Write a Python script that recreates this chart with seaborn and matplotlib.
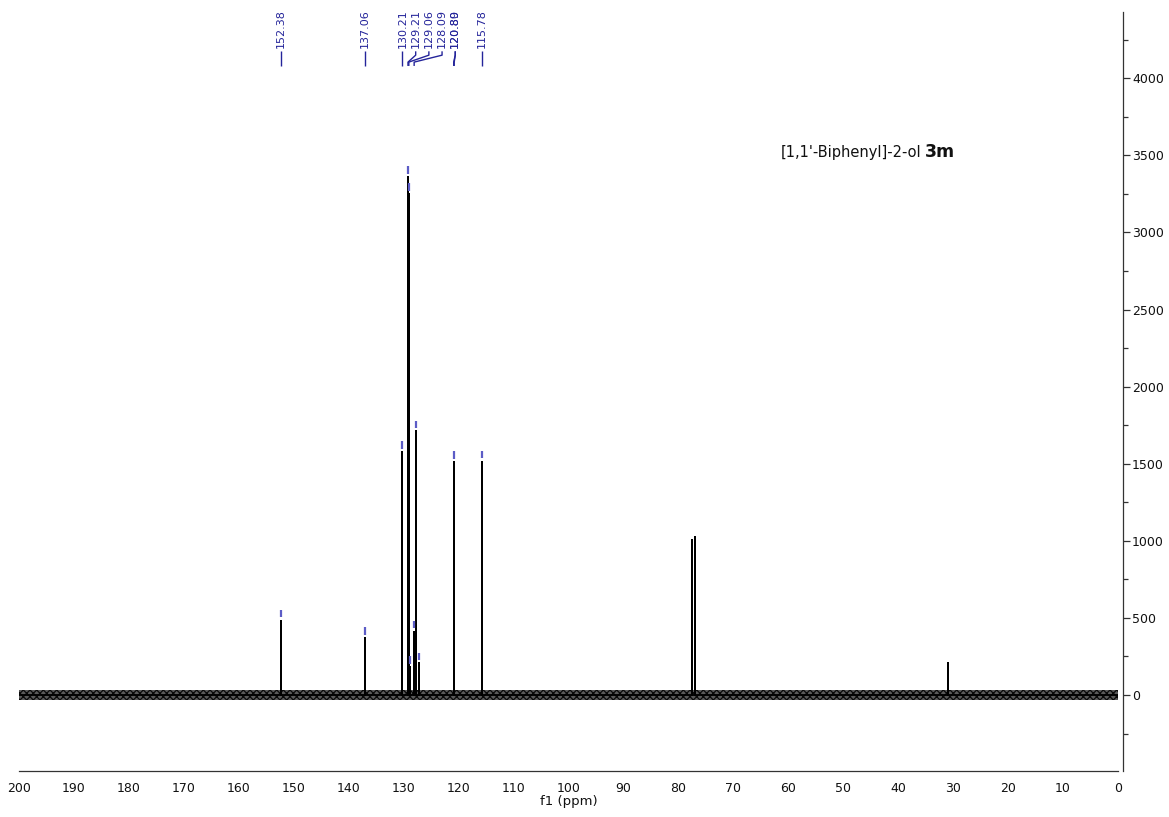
import numpy as np
import pandas as pd
import matplotlib
matplotlib.use("Agg")
import matplotlib.pyplot as plt
from matplotlib.ticker import MultipleLocator
import seaborn as sns

# ---------------- data ----------------
peak_ppm = [152.38, 137.06, 130.21, 129.21, 129.06, 128.78, 128.05, 127.82,
            127.15, 120.85, 115.78, 77.45, 76.95, 31.0]
peak_height = [482, 370, 1575, 3360, 3250, 180, 410, 1710,
               205, 1510, 1512, 1005, 1024, 210]
label_values = ["152.38", "137.06", "130.21", "129.21", "129.06",
                "128.09", "120.89", "120.80", "115.78"]
noise_level = 32
x_ticks = list(range(200, -1, -10))
y_ticks = [0, 500, 1000, 1500, 2000, 2500, 3000, 3500, 4000]
x_range = [200, 0]
y_range = [-493, 4430]
title_name = "[1,1'-Biphenyl]-2-ol"
title_code = "3m"
x_label = "f1 (ppm)"

# ---------------- style ----------------
sns.set_theme(style="white")
plt.rcParams["font.family"] = ["DejaVu Sans"]
plt.rcParams["hatch.linewidth"] = 0.9
plt.rcParams["hatch.color"] = "#0a0a0a"
axis_col = "#333333"
label_col = "#24249a"
marker_col = "#5c5cc6"

fig = plt.figure(figsize=(11.69, 8.17), dpi=100)
W, H = 1169, 817
ax = fig.add_axes([19 / W, 1 - 771 / H, (1118 - 19) / W, (771 - 12) / H])

# spectrum built as stick line from the peak list
rows = [(x_range[0], 0.0)]
for p, h in sorted(zip(peak_ppm, peak_height), key=lambda t: -t[0]):
    rows += [(p, 0.0), (p, h), (p, 0.0)]
rows.append((x_range[1], 0.0))
spec = pd.DataFrame(rows, columns=["ppm", "intensity"])

# baseline noise band (textured)
ax.fill_between(x_range, [-noise_level] * 2, [noise_level] * 2,
                facecolor="#5a5a5a", edgecolor="#0a0a0a", hatch="xxxxx",
                lw=0, zorder=1)
sns.lineplot(data=spec, x="ppm", y="intensity", sort=False, estimator=None,
             color="black", lw=1.3, ax=ax, zorder=2)

# small peak-pick markers above aromatic peaks
for p, h in zip(peak_ppm, peak_height):
    if p > 100:
        ax.vlines(p, h + 22, h + 70, color=marker_col, lw=1.6, zorder=3)

# peak labels with spreading
vals = sorted([float(v) for v in label_values], reverse=True)
texts = sorted(label_values, key=lambda s: -float(s))
spacing = 2.40
prev_v, prev_pos = None, np.inf
for v, t in zip(vals, texts):
    if prev_v is not None and prev_v - v < 0.1:
        pos = prev_pos
    else:
        pos = min(v, prev_pos - spacing)
    ax.text(pos, 4195, t, rotation=90, ha="center", va="bottom",
            fontsize=8.0, color=label_col)
    ax.plot([pos, pos, v, v], [4175, 4150, 4105, 4080], color=label_col,
            lw=1.0, solid_capstyle="butt")
    prev_v, prev_pos = v, pos

# axes
ax.set_xlim(*x_range)
ax.set_ylim(*y_range)
ax.set_xticks(x_ticks)
ax.set_xticklabels([str(t) for t in x_ticks])
ax.set_yticks(y_ticks)
ax.set_yticklabels([str(t) for t in y_ticks])
ax.xaxis.set_minor_locator(MultipleLocator(5))
ax.yaxis.set_minor_locator(MultipleLocator(250))
ax.yaxis.tick_right()
for s in ["top", "left"]:
    ax.spines[s].set_visible(False)
for s in ["right", "bottom"]:
    ax.spines[s].set_visible(True)
    ax.spines[s].set_color(axis_col)
    ax.spines[s].set_linewidth(0.9)
ax.spines["right"].set_position(("outward", 3.6))
ax.tick_params(axis="both", which="major", direction="out", length=5,
               width=0.9, color=axis_col, labelsize=9, labelcolor="#111111")
ax.tick_params(axis="both", which="minor", direction="out", length=3.5,
               width=0.9, color=axis_col)
ax.tick_params(axis="y", which="both", left=False, right=True, pad=1.5)
ax.tick_params(axis="x", which="major", pad=3)
ax.set_xlabel(x_label, fontsize=9.5, labelpad=0, color="#111111")
ax.set_ylabel("")
ax.grid(False)

# title text
ty = 1 - 157 / H
t1 = fig.text(781 / W, ty, title_name, fontsize=10.5, va="baseline",
              ha="left", color="#111111")
ax.annotate(title_code, xy=(1, ty), xycoords=(t1, "figure fraction"),
            xytext=(2.5, 0), textcoords="offset points", va="baseline",
            ha="left", fontsize=12.5, fontweight="bold", color="#111111",
            annotation_clip=False)

fig.savefig("out.png", dpi=100)
